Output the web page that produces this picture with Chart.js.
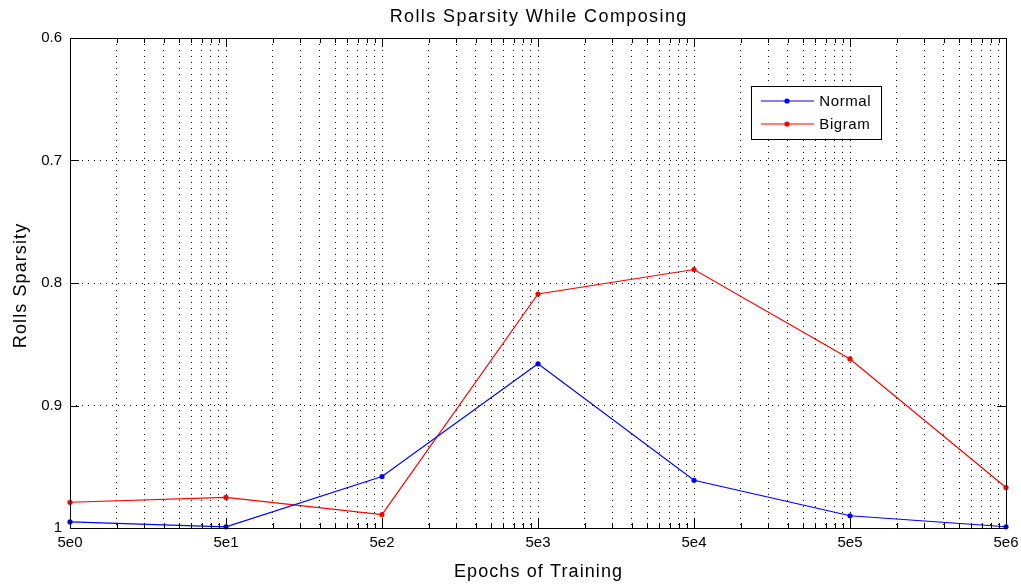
<!DOCTYPE html>
<html>
<head>
<meta charset="utf-8">
<script src="https://cdn.jsdelivr.net/npm/chart.js@4.4.1/dist/chart.umd.min.js"></script>
<style>
  html, body { margin: 0; padding: 0; background: #ffffff; }
  #wrap { width: 1021px; height: 584px; position: relative; }
</style>
</head>
<body>
<div id="wrap"><canvas id="c" width="1021" height="584"></canvas></div>
<script>
// Training epochs (log axis) and sparsity readings for both models
const epochs = [5, 50, 500, 5000, 50000, 500000, 5000000];
const normalSparsity = [0.995, 0.999, 0.958, 0.866, 0.961, 0.990, 0.999];
const bigramSparsity = [0.979, 0.975, 0.989, 0.809, 0.789, 0.862, 0.967];
const seriesNames = ['Normal', 'Bigram'];
const xTickLabels = ['5e0', '5e1', '5e2', '5e3', '5e4', '5e5', '5e6'];
const yTickValues = [0.6, 0.7, 0.8, 0.9, 1];
const yTickLabels = ['0.6', '0.7', '0.8', '0.9', '1'];

const FONT = '"Liberation Sans", Arial, Helvetica, sans-serif';

// Major ticks at 5·10^n, minor ticks at 5·k·10^n (k = 2..9)
function buildLogTicks() {
  const out = [];
  for (let n = 0; n < epochs.length - 1; n++) {
    for (let k = 1; k <= 9; k++) {
      out.push({ value: epochs[n] * k, major: k === 1 });
    }
  }
  out.push({ value: epochs[epochs.length - 1], major: true });
  return out;
}

function spacedText(ctx, text, x, y, spacing) {
  if ('letterSpacing' in ctx) {
    ctx.letterSpacing = spacing + 'px';
    ctx.fillText(text, x + spacing / 2, y);
    ctx.letterSpacing = '0px';
  } else {
    ctx.fillText(text, x, y);
  }
}

const framePlugin = {
  id: 'frame',
  afterDraw(chart) {
    const { ctx, chartArea: a } = chart;
    const xs = chart.scales.x, ys = chart.scales.y;
    ctx.save();
    ctx.strokeStyle = '#000';
    ctx.lineWidth = 1;
    // plot box
    ctx.strokeRect(Math.round(a.left) + 0.5, Math.round(a.top) + 0.5,
                   Math.round(a.right - a.left), Math.round(a.bottom - a.top));
    // inward tick marks on all four sides
    ctx.beginPath();
    xs.ticks.forEach(t => {
      const px = Math.round(xs.getPixelForValue(t.value)) + 0.5;
      const len = t.major ? 9 : 5;
      ctx.moveTo(px, a.bottom); ctx.lineTo(px, a.bottom - len);
      ctx.moveTo(px, a.top); ctx.lineTo(px, a.top + len);
    });
    ys.ticks.forEach(t => {
      const py = Math.round(ys.getPixelForValue(t.value)) + 0.5;
      ctx.moveTo(a.left, py); ctx.lineTo(a.left + 9, py);
      ctx.moveTo(a.right, py); ctx.lineTo(a.right - 9, py);
    });
    ctx.stroke();

    // title and axis titles
    ctx.fillStyle = '#000';
    ctx.textAlign = 'center';
    ctx.textBaseline = 'middle';
    ctx.font = '18px ' + FONT;
    spacedText(ctx, 'Rolls Sparsity While Composing', (a.left + a.right) / 2, 17, 1.4);
    ctx.font = '18px ' + FONT;
    spacedText(ctx, 'Epochs of Training', (a.left + a.right) / 2, 572, 1.1);
    ctx.save();
    ctx.translate(21, 286);
    ctx.rotate(-Math.PI / 2);
    spacedText(ctx, 'Rolls Sparsity', 0, 0, 1.1);
    ctx.restore();

    // legend box
    const lx = 751, ly = 86, lw = 130, lh = 53;
    ctx.fillStyle = '#fff';
    ctx.fillRect(lx, ly, lw, lh);
    ctx.strokeStyle = '#000';
    ctx.strokeRect(lx + 0.5, ly + 0.5, lw, lh);
    chart.data.datasets.forEach((ds, i) => {
      const cy = ly + 15 + i * 23;
      ctx.strokeStyle = ds.borderColor;
      ctx.lineWidth = 1.2;
      ctx.beginPath();
      ctx.moveTo(lx + 10, cy); ctx.lineTo(lx + 63, cy);
      ctx.stroke();
      ctx.fillStyle = ds.borderColor;
      ctx.beginPath();
      ctx.arc(lx + 36, cy, 2.6, 0, Math.PI * 2);
      ctx.fill();
      ctx.fillStyle = '#000';
      ctx.textAlign = 'left';
      ctx.font = '15px ' + FONT;
      spacedText(ctx, ds.label, lx + 68, cy + 1, 0.6);
    });
    ctx.restore();
  }
};

const bgPlugin = {
  id: 'bg',
  beforeDraw(chart) {
    const ctx = chart.ctx;
    ctx.save();
    ctx.fillStyle = '#fff';
    ctx.fillRect(0, 0, chart.width, chart.height);
    ctx.restore();
  }
};

new Chart(document.getElementById('c'), {
  type: 'line',
  data: {
    datasets: [
      {
        label: seriesNames[0],
        data: epochs.map((e, i) => ({ x: e, y: normalSparsity[i] })),
        borderColor: '#0000ff',
        backgroundColor: '#0000ff',
        borderWidth: 1.2,
        pointRadius: 2.6,
        pointHoverRadius: 2.6,
        pointBorderWidth: 0,
        tension: 0,
        clip: 6
      },
      {
        label: seriesNames[1],
        data: epochs.map((e, i) => ({ x: e, y: bigramSparsity[i] })),
        borderColor: '#ff0000',
        backgroundColor: '#ff0000',
        borderWidth: 1.2,
        pointRadius: 2.6,
        pointHoverRadius: 2.6,
        pointBorderWidth: 0,
        tension: 0,
        clip: 6
      }
    ]
  },
  options: {
    responsive: false,
    animation: false,
    events: [],
    layout: { padding: { left: 0, right: 15, top: 38, bottom: 0 } },
    plugins: { legend: { display: false }, title: { display: false }, tooltip: { enabled: false } },
    scales: {
      x: {
        type: 'logarithmic',
        min: epochs[0],
        max: epochs[epochs.length - 1],
        afterBuildTicks(scale) { scale.ticks = buildLogTicks(); },
        afterFit(scale) {
          scale.height = 56;
          scale.paddingLeft = 0;
          scale.paddingRight = 0;
        },
        ticks: {
          autoSkip: false,
          maxRotation: 0,
          minRotation: 0,
          padding: 6,
          color: '#000',
          font: { family: FONT, size: 15 },
          callback(value) {
            const idx = epochs.indexOf(value);
            return idx >= 0 ? xTickLabels[idx] : '';
          }
        },
        grid: { color: '#000', lineWidth: 1, drawTicks: false },
        border: { display: false, dash: [1, 5] }
      },
      y: {
        type: 'linear',
        reverse: true,
        min: yTickValues[0],
        max: yTickValues[yTickValues.length - 1],
        afterBuildTicks(scale) { scale.ticks = yTickValues.map(v => ({ value: v })); },
        afterFit(scale) {
          scale.width = 70;
          scale.paddingTop = 0;
          scale.paddingBottom = 0;
        },
        ticks: {
          padding: 8,
          color: '#000',
          font: { family: FONT, size: 15 },
          callback(value) {
            const idx = yTickValues.findIndex(v => Math.abs(v - value) < 1e-9);
            return idx >= 0 ? yTickLabels[idx] : '';
          }
        },
        grid: { color: '#000', lineWidth: 1, drawTicks: false },
        border: { display: false, dash: [1, 5] }
      }
    }
  },
  plugins: [bgPlugin, framePlugin]
});
</script>
</body>
</html>
